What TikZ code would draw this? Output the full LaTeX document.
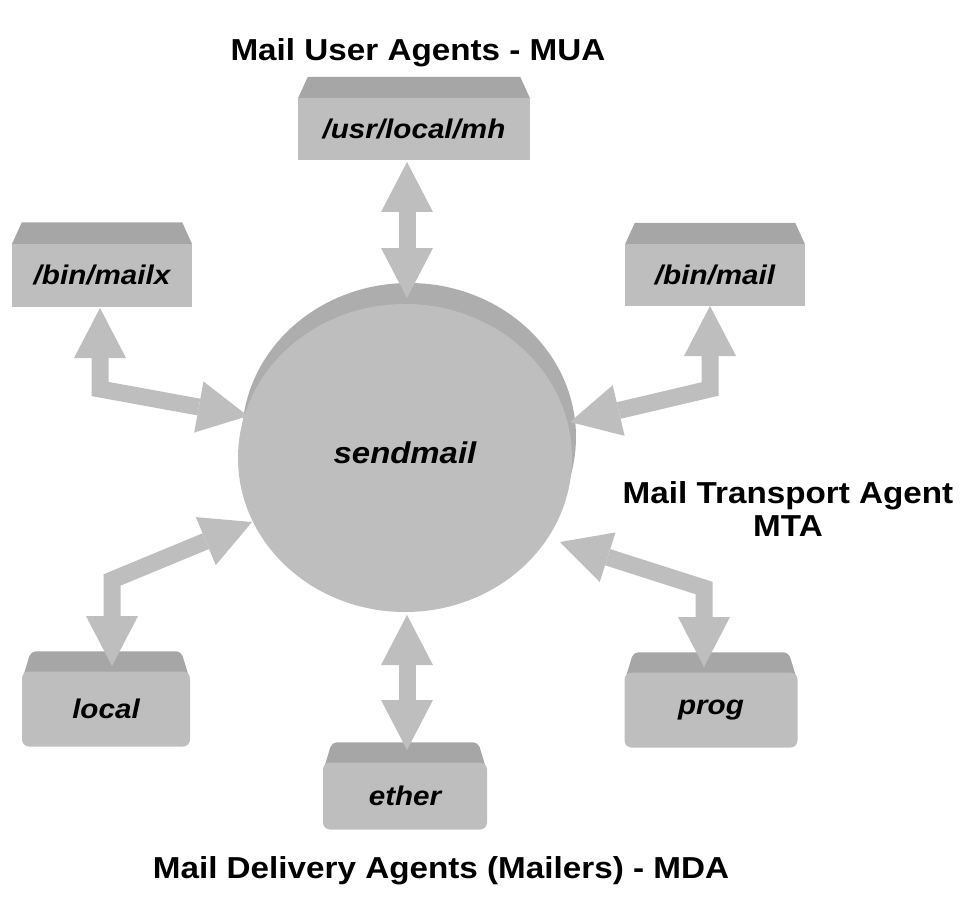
\documentclass[tikz,border=0pt]{standalone}
\usepackage{fontspec}
\setmainfont{Liberation Sans}[FakeStretch=1.097]
\usetikzlibrary{arrows.meta,shapes.geometric,backgrounds}
\definecolor{face}{RGB}{190,190,190}
\definecolor{topface}{RGB}{166,166,166}
\definecolor{rim}{RGB}{173,173,173}
\definecolor{arr}{RGB}{190,190,190}
\begin{document}
\begin{tikzpicture}[x=1pt,y=-1pt,
  title/.style={font=\fontsize{30.3}{36}\selectfont\bfseries, anchor=base, inner sep=0pt},
  lbl/.style={font=\fontsize{27}{32}\selectfont\bfseries\itshape},
  upbox/.style={fill=face, inner sep=0pt, lbl},
  lowbox/.style={fill=face, inner sep=0pt, rounded corners=7pt, lbl},
  dbl/.style={draw=arr, line width=17pt, line join=miter,
    arrows={Triangle[length=50pt,width=52pt,line width=0pt]-Triangle[length=50pt,width=52pt,line width=0pt]}}
]
\useasboundingbox (0,0) rectangle (962,915);

% titles
\node[title] (mua) at (418,61) {Mail User Agents - MUA};
\node[title] (mta1) at (788,503) {Mail Transport Agent};
\node[title] (mta2) at (788,536) {MTA};
\node[title] (mda) at (441,878) {Mail Delivery Agents (Mailers) - MDA};

% central cylinder
\node[ellipse, fill=face, inner sep=0pt, minimum width=334pt, minimum height=308pt,
      font=\fontsize{30}{36}\selectfont\bfseries\itshape, text height=22pt, text depth=12pt]
      (send) at (405,458) {sendmail};

% boxes
\node[upbox, minimum width=232pt, minimum height=62pt] (mh) at (414,129) {/usr/local/mh};
\node[upbox, minimum width=180pt, minimum height=63pt] (mailx) at (102,275) {/bin/mailx};
\node[upbox, minimum width=180pt, minimum height=62pt] (mail) at (715,275) {/bin/mail};
\node[lowbox, minimum width=168pt, minimum height=75pt] (local) at (106,709) {local};
\node[lowbox, minimum width=173pt, minimum height=75pt] (prog) at (711,710) {prog};
\node[lowbox, minimum width=164pt, minimum height=67pt] (ether) at (405,796) {ether};

\begin{pgfonlayer}{background}
  \fill[rim] (409,437) ellipse [x radius=167pt, y radius=154pt];
  \foreach \n in {mh,mailx,mail}{
    \fill[topface] ([yshift=-1pt]\n.north west) -- ([xshift=10pt,yshift=21pt]\n.north west)
      -- ([xshift=-10pt,yshift=21pt]\n.north east) -- ([yshift=-1pt]\n.north east) -- cycle;
  }
  \foreach \n in {local,prog,ether}{
    \fill[topface, rounded corners=5pt] ([yshift=-10pt]\n.north west) -- ([xshift=9pt,yshift=20pt]\n.north west)
      -- ([xshift=-9pt,yshift=20pt]\n.north east) -- ([yshift=-10pt]\n.north east) -- cycle;
  }
\end{pgfonlayer}

% connector end points and elbows
\coordinate (mh-t) at (407,162);
\coordinate (send-top) at (407,298);
\coordinate (mailx-t) at (100,308);
\coordinate (mailx-k) at (100,389);
\coordinate (send-mailx) at (248,416);
\coordinate (mail-t) at (710,306);
\coordinate (mail-k) at (710,389);
\coordinate (send-mail) at (570,422);
\coordinate (send-local) at (252,522);
\coordinate (local-k) at (112,580);
\coordinate (local-t) at (112,666);
\coordinate (send-prog) at (560,542);
\coordinate (prog-k) at (704,588);
\coordinate (prog-t) at (704,667);
\coordinate (send-bot) at (407,615);
\coordinate (ether-t) at (407,750);

\draw[dbl] (mh-t) -- (send-top);
\draw[dbl] (mailx-t) -- (mailx-k) -- (send-mailx);
\draw[dbl] (mail-t) -- (mail-k) -- (send-mail);
\draw[dbl] (send-local) -- (local-k) -- (local-t);
\draw[dbl] (send-prog) -- (prog-k) -- (prog-t);
\draw[dbl] (send-bot) -- (ether-t);
\end{tikzpicture}
\end{document}
